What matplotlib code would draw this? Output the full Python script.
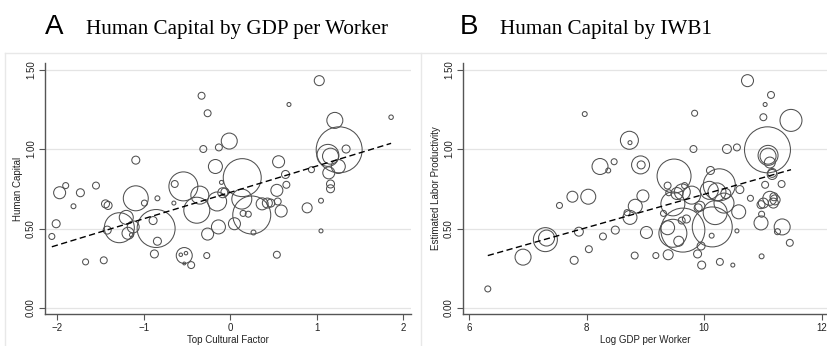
"""Two bubble scatter panels: human capital by cultural factor and by log GDP per worker."""

import matplotlib
matplotlib.use("Agg")
import matplotlib.pyplot as plt
from matplotlib.lines import Line2D
import numpy as np

# ---- data (x, y, bubble weight ~ population) ----
a_x = [-0.33, -0.26, 1.03, 0.68, 1.86, 1.21, 1.26, 1.13, 1.16, 1.25, 1.34, 1.14, 0.94, 0.64,
       0.56, 0.14, -0.01, -0.13, -0.31, -0.17, -1.09, -0.54, -0.64, -0.35, -0.385, -0.15,
       -0.085, -0.06, -0.10, 0.135, 0.25, 0.05, 0.27, 0.15, 0.21, 0.37, 0.43, 0.47, 0.54,
       0.55, 0.59, 0.65, 0.54, 0.89, 1.05, 1.05, 1.16, 1.16, -2.06, -2.01, -1.97, -1.90,
       -1.81, -1.73, -1.67, -1.55, -1.46, -1.44, -1.41, -1.42, -1.28, -1.20, -1.18, -1.12,
       -1.14, -1.09, -0.99, -0.855, -0.89, -0.84, -0.84, -0.875, -0.65, -0.53, -0.57,
       -0.51, -0.53, -0.45, -0.27, -0.26, -0.135]
a_y = [1.335, 1.225, 1.43, 1.28, 1.20, 1.18, 0.995, 0.96, 0.955, 0.89, 1.00, 0.85, 0.87, 0.84,
       0.92, 0.82, 1.05, 1.01, 1.00, 0.89, 0.93, 0.765, 0.78, 0.71, 0.615, 0.67,
       0.725, 0.73, 0.79, 0.685, 0.585, 0.53, 0.475, 0.595, 0.59, 0.655, 0.66, 0.66, 0.74,
       0.67, 0.61, 0.775, 0.335, 0.63, 0.675, 0.485, 0.78, 0.75, 0.45, 0.53, 0.725, 0.77,
       0.64, 0.725, 0.29, 0.77, 0.30, 0.655, 0.645, 0.49, 0.505, 0.57, 0.47, 0.51,
       0.46, 0.69, 0.66, 0.50, 0.55, 0.42, 0.69, 0.34, 0.66, 0.33, 0.335,
       0.345, 0.28, 0.27, 0.33, 0.465, 0.51]
a_w = [12, 12, 25, 4, 5, 64, 529, 121, 64, 49, 16, 36, 9, 16,
       36, 361, 64, 12, 12, 49, 16, 210, 12, 81, 169, 90,
       25, 16, 4, 100, 361, 36, 6, 9, 9, 36, 25, 16, 36,
       12, 36, 12, 12, 25, 6, 4, 16, 16, 9, 16, 36, 9,
       6, 16, 9, 12, 12, 16, 16, 16, 225, 49, 36, 36,
       4, 156, 9, 361, 16, 16, 6, 16, 4, 64, 3,
       3, 2, 12, 9, 36, 49]

b_x = [10.74, 11.14, 11.04, 11.01, 11.48, 7.97, 9.84, 9.82, 10.39, 10.56, 11.08, 11.09, 11.09,
       11.12, 11.16, 8.73, 8.74, 8.23, 8.37, 8.47, 8.92, 8.93, 9.49, 10.11, 6.32, 6.92, 7.30,
       7.32, 7.54, 7.76, 8.03, 7.79, 7.87, 8.04, 8.28, 8.49, 8.74, 8.69, 8.83, 8.96, 8.82,
       9.02, 9.18, 9.39, 9.38, 9.47, 9.64, 9.57, 9.47, 9.31, 9.38, 9.40, 9.54, 9.63, 9.67,
       9.79, 9.62, 9.70, 9.89, 9.96, 9.95, 9.93, 10.13, 10.14, 10.19, 10.09, 10.26, 10.34,
       10.37, 10.22, 10.27, 10.49, 10.56, 10.59, 10.61, 10.79, 10.97, 10.98, 10.98, 11.01,
       10.97, 11.04, 11.12, 11.18, 11.21, 11.19, 11.25, 11.33, 11.32, 11.46, 11.16, 9.90]
b_y = [1.43, 1.34, 1.28, 1.20, 1.18, 1.22, 1.225, 1.00, 1.00, 1.01, 0.995, 0.96, 0.955,
       0.915, 0.85, 1.055, 1.04, 0.89, 0.865, 0.92, 0.90, 0.90, 0.83, 0.865, 0.12, 0.32, 0.43,
       0.44, 0.645, 0.70, 0.70, 0.30, 0.48, 0.37, 0.45, 0.49, 0.57, 0.60, 0.64, 0.705, 0.33,
       0.475, 0.33, 0.335, 0.505, 0.47, 0.49, 0.42, 0.655, 0.595, 0.77, 0.725, 0.72, 0.73, 0.77,
       0.71, 0.55, 0.56, 0.34, 0.27, 0.39, 0.64, 0.455, 0.51, 0.60, 0.74, 0.775, 0.66,
       0.72, 0.73, 0.29, 0.27, 0.485, 0.605, 0.745, 0.69, 0.535, 0.59, 0.325, 0.66,
       0.65, 0.775, 0.69, 0.66, 0.68, 0.70, 0.48, 0.51, 0.78, 0.41, 0.84, 0.63]
b_w = [36, 12, 4, 12, 121, 6, 9, 12, 20, 12, 529, 100, 64,
       30, 20, 81, 4, 64, 6, 9, 81, 16, 289, 16, 9, 64, 144,
       64, 9, 30, 56, 16, 20, 12, 12, 16, 49, 9, 49, 36, 12,
       36, 9, 25, 49, 196, 484, 25, 144, 9, 12, 9, 36, 64, 9,
       81, 12, 16, 16, 16, 16, 25, 6, 400, 144, 81, 256, 100,
       25, 81, 12, 4, 4, 49, 16, 9, 49, 9, 6, 25,
       16, 12, 49, 25, 25, 16, 9, 64, 12, 12, 25, 16]

# fitted lines (intercept, slope) as shown in the figure
a_fit = (0.727, 0.166)
b_fit = (-0.332, 0.1047)

yticks = [0.0, 0.5, 1.0, 1.5]
a_xticks = [-2, -1, 0, 1, 2]
b_xticks = [6, 8, 10, 12]

W, H = 828, 346
SIZE_SCALE = 2.07  # weight -> marker area (pt^2)
CIRCLE = "#505050"
GRID = "#e4e4e4"
FRAME = "#e8e8e8"
SANS = ["Liberation Sans", "DejaVu Sans"]
SERIF = ["Liberation Serif", "DejaVu Serif"]
SMALL = 7


def fx(px):
    return px / W


def fy(py):
    return 1 - py / H


def panel(fig, left_px, right_px, xs, ys, ws, fit, xlim, xticks, xlabel, ylabel):
    ax = fig.add_axes([fx(left_px), fy(314), fx(right_px - left_px), (314 - 63) / H])
    ax.scatter(xs, ys, s=np.array(ws) * SIZE_SCALE, facecolors="none",
               edgecolors=CIRCLE, linewidths=0.75, zorder=3)
    xl = np.array([min(xs), max(xs)])
    ax.plot(xl, fit[0] + fit[1] * xl, color="black", lw=1.0, ls=(0, (4.5, 2.5)), zorder=4)
    ax.set_xlim(*xlim)
    ax.set_ylim(-0.0377, 1.541)
    ax.set_yticks(yticks)
    ax.set_yticklabels([f"{v:.2f}" for v in yticks], rotation=90, va="center",
                       family=SANS, fontsize=SMALL)
    ax.set_xticks(xticks)
    ax.set_xticklabels([("\u2212" + str(-t)) if t < 0 else str(t) for t in xticks],
                       family=SANS, fontsize=SMALL)
    ax.grid(axis="y", color=GRID, lw=0.9, zorder=0)
    ax.set_axisbelow(True)
    for side in ("top", "right"):
        ax.spines[side].set_visible(False)
    for side in ("left", "bottom"):
        ax.spines[side].set_color("#555555")
        ax.spines[side].set_linewidth(1.0)
    ax.tick_params(length=4, width=0.8, color="#555555", pad=2.5, labelcolor="#222222")
    ax.set_xlabel(xlabel, family=SANS, fontsize=SMALL, labelpad=1.5, color="#222222")
    ax.set_ylabel(ylabel, family=SANS, fontsize=SMALL, labelpad=2, color="#222222")
    ax.patch.set_alpha(0)
    return ax


fig = plt.figure(figsize=(W / 100, H / 100), dpi=100)

# light panel frames
for line in [((5, 828), (53, 53)), ((5, 5), (53, 346)), ((421, 421), (53, 346))]:
    fig.add_artist(Line2D([fx(p) for p in line[0]], [fy(p) for p in line[1]],
                          color=FRAME, lw=1.0))

panel(fig, 45, 411, a_x, a_y, a_w, a_fit, (-2.139, 2.09), a_xticks,
      "Top Cultural Factor", "Human Capital")
panel(fig, 463, 828, b_x, b_y, b_w, b_fit, (5.898, 12.11), b_xticks,
      "Log GDP per Worker", "Estimated Labor Productivity")

# panel titles
fig.text(fx(45), fy(34.3), "A", family=SANS, fontsize=20, va="baseline")
fig.text(fx(86), fy(34.3), "Human Capital by GDP per Worker", family=SERIF,
         fontsize=15.2, va="baseline")
fig.text(fx(460), fy(34.3), "B", family=SANS, fontsize=20, va="baseline")
fig.text(fx(500), fy(34.3), "Human Capital by IWB1", family=SERIF,
         fontsize=15.2, va="baseline")

fig.savefig("out.png", dpi=100)
